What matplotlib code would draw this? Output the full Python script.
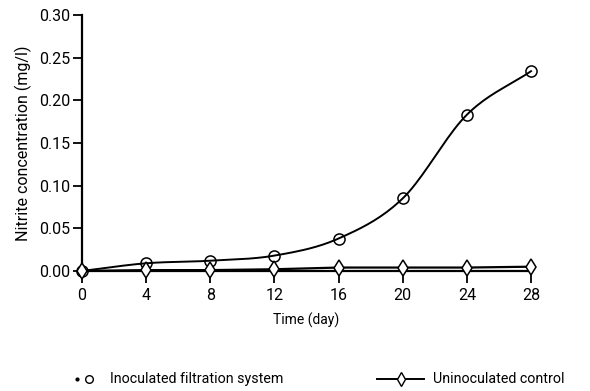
import numpy as np
import matplotlib
matplotlib.use("Agg")
import matplotlib.pyplot as plt
from matplotlib.lines import Line2D

plt.rcParams['font.family'] = ['Roboto', 'DejaVu Sans']

# data
days = [0, 4, 8, 12, 16, 20, 24, 28]
inoculated = [0.000, 0.009, 0.012, 0.018, 0.038, 0.085, 0.183, 0.234]
control = [0.000, 0.001, 0.001, 0.002, 0.004, 0.004, 0.004, 0.005]
xticks = [0, 4, 8, 12, 16, 20, 24, 28]
yticks = [0.00, 0.05, 0.10, 0.15, 0.20, 0.25, 0.30]


def smooth_path(x, y, n=20):
    # Catmull-Rom through the measured points, only for drawing the curve
    x = np.asarray(x, float)
    y = np.asarray(y, float)
    px = np.concatenate([[2 * x[0] - x[1]], x, [2 * x[-1] - x[-2]]])
    py = np.concatenate([[2 * y[0] - y[1]], y, [2 * y[-1] - y[-2]]])
    xs, ys = [], []
    t = np.linspace(0, 1, n, endpoint=False)
    for i in range(1, len(px) - 2):
        for p, out in ((px, xs), (py, ys)):
            p0, p1, p2, p3 = p[i - 1], p[i], p[i + 1], p[i + 2]
            out.extend(0.5 * (2 * p1 + (-p0 + p2) * t
                              + (2 * p0 - 5 * p1 + 4 * p2 - p3) * t ** 2
                              + (-p0 + 3 * p1 - 3 * p2 + p3) * t ** 3))
    xs.append(x[-1])
    ys.append(y[-1])
    return np.array(xs), np.array(ys)


fig = plt.figure(figsize=(5.9, 3.91), dpi=100)
ax = fig.add_axes([0.139, 0.307, 0.761, 0.655])

sx, sy = smooth_path(days, inoculated)
ax.plot(sx, sy, color='black', lw=1.4, clip_on=False, zorder=3)
ax.plot(days, inoculated, 'o', mfc='none', mec='black', ms=8, mew=1.1,
        clip_on=False, zorder=4)
ax.plot(days, control, '-', color='black', lw=1.6, marker='d', mfc='white',
        mec='black', ms=8.5, mew=1.1, clip_on=False, zorder=4)

ax.set_xlim(0, 28)
ax.set_ylim(0, 0.30)
ax.set_xticks(xticks)
ax.set_yticks(yticks)
ax.set_yticklabels([f'{v:.2f}' for v in yticks])
ax.tick_params(axis='both', direction='out', width=1.3, labelsize=11.5,
               colors='black')
ax.tick_params(axis='y', length=6.5, pad=2)
ax.tick_params(axis='x', length=8.5, pad=4)
ax.spines['top'].set_visible(False)
ax.spines['right'].set_visible(False)
ax.spines['left'].set_linewidth(1.6)
ax.spines['bottom'].set_linewidth(1.6)
ax.set_xlabel('Time (day)', fontsize=10, labelpad=7)
ax.set_ylabel('Nitrite concentration (mg/l)', fontsize=11.5, labelpad=5)

# legend drawn below the chart
ly = 0.031
fig.add_artist(Line2D([0.131], [ly], marker='.', ms=4, color='black',
                      transform=fig.transFigure))
fig.add_artist(Line2D([0.151], [ly], marker='o', ms=5.5, mfc='none',
                      mec='black', mew=1.0, transform=fig.transFigure))
fig.text(0.186, ly, 'Inoculated filtration system', fontsize=10.3,
         va='center', ha='left')
fig.add_artist(Line2D([0.639, 0.719], [ly, ly], color='black', lw=1.4,
                      transform=fig.transFigure))
fig.add_artist(Line2D([0.679], [ly], marker='d', ms=7, mfc='white',
                      mec='black', mew=1.0, transform=fig.transFigure))
fig.text(0.734, ly, 'Uninoculated control', fontsize=10.3,
         va='center', ha='left')

fig.savefig('out.png', dpi=100)
